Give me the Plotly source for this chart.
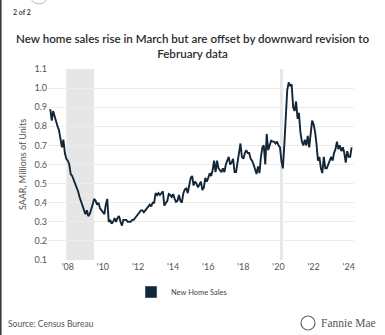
import pandas as pd
import plotly.graph_objects as go

# Monthly new home sales, SAAR, millions of units (Jan 2007 - Mar 2024)
sales_2007 = [0.89, 0.83, 0.88, 0.85, 0.82, 0.80, 0.78, 0.72, 0.69, 0.73, 0.66, 0.63]
sales_2008 = [0.62, 0.60, 0.55, 0.54, 0.52, 0.50, 0.49, 0.46, 0.43, 0.41, 0.39, 0.37]
sales_2009 = [0.34, 0.36, 0.33, 0.34, 0.36, 0.39, 0.42, 0.41, 0.39, 0.40, 0.37, 0.36]
sales_2010 = [0.35, 0.34, 0.39, 0.42, 0.30, 0.31, 0.29, 0.30, 0.32, 0.30, 0.32, 0.33]
sales_2011 = [0.30, 0.28, 0.31, 0.31, 0.31, 0.30, 0.30, 0.30, 0.31, 0.31, 0.32, 0.33]
sales_2012 = [0.34, 0.35, 0.36, 0.36, 0.35, 0.36, 0.37, 0.38, 0.39, 0.38, 0.40, 0.40]
sales_2013 = [0.45, 0.44, 0.45, 0.44, 0.45, 0.46, 0.385, 0.40, 0.41, 0.445, 0.44, 0.43]
sales_2014 = [0.445, 0.42, 0.405, 0.41, 0.44, 0.41, 0.40, 0.45, 0.47, 0.475, 0.45, 0.49]
sales_2015 = [0.53, 0.54, 0.49, 0.51, 0.50, 0.48, 0.50, 0.51, 0.466, 0.48, 0.53, 0.51]
sales_2016 = [0.53, 0.554, 0.54, 0.57, 0.62, 0.56, 0.62, 0.58, 0.57, 0.56, 0.58, 0.56]
sales_2017 = [0.60, 0.62, 0.64, 0.60, 0.61, 0.63, 0.56, 0.56, 0.61, 0.67, 0.71, 0.64]
sales_2018 = [0.63, 0.66, 0.675, 0.66, 0.66, 0.63, 0.62, 0.60, 0.57, 0.55, 0.59, 0.555]
sales_2019 = [0.64, 0.69, 0.70, 0.60, 0.76, 0.675, 0.70, 0.725, 0.72, 0.72, 0.71, 0.72]
sales_2020 = [0.70, 0.69, 0.62, 0.58, 0.70, 0.84, 0.99, 1.03, 1.01, 1.02, 0.90, 0.88]
sales_2021 = [0.93, 0.84, 0.87, 0.77, 0.72, 0.70, 0.73, 0.70, 0.75, 0.69, 0.76, 0.83]
sales_2022 = [0.81, 0.77, 0.71, 0.62, 0.64, 0.58, 0.555, 0.64, 0.58, 0.58, 0.60, 0.62]
sales_2023 = [0.64, 0.62, 0.66, 0.68, 0.72, 0.68, 0.70, 0.67, 0.69, 0.66, 0.61, 0.67]
sales_2024 = [0.64, 0.64, 0.69]

new_home_sales = (sales_2007 + sales_2008 + sales_2009 + sales_2010 + sales_2011 +
                  sales_2012 + sales_2013 + sales_2014 + sales_2015 + sales_2016 +
                  sales_2017 + sales_2018 + sales_2019 + sales_2020 + sales_2021 +
                  sales_2022 + sales_2023 + sales_2024)
months = pd.date_range("2007-01-01", periods=len(new_home_sales), freq="MS")

# Recession periods (shaded)
recession_starts = ["2007-12-01", "2020-02-01"]
recession_ends = ["2009-06-30", "2020-04-01"]

tick_dates = ["2008-01-01", "2010-01-01", "2012-01-01", "2014-01-01", "2016-01-01",
              "2018-01-01", "2020-01-01", "2022-01-01", "2024-01-01"]
tick_labels = ["'08", "'10", "'12", "'14", "'16", "'18", "'20", "'22", "'24"]
y_ticks = [0.1, 0.2, 0.3, 0.4, 0.5, 0.6, 0.7, 0.8, 0.9, 1.0, 1.1]

NAVY = "#132638"
GREY_TXT = "#555555"

fig = go.Figure()
fig.add_trace(go.Scatter(x=months, y=new_home_sales, mode="lines",
                         line=dict(color=NAVY, width=1.9), showlegend=False,
                         name="New Home Sales"))
fig.add_trace(go.Bar(x=[None], y=[None], name="New Home Sales",
                     marker=dict(color=NAVY), showlegend=True))

for s, e in zip(recession_starts, recession_ends):
    fig.add_shape(type="rect", xref="x", yref="paper", x0=s, x1=e, y0=0, y1=1,
                  fillcolor="#e6e6e6", line=dict(width=0), layer="below")

W, H = 385, 335
L, R, T, B = 48, 31, 69, 75
pw = W - L - R
ph = H - T - B

def px(xp):
    return (xp - L) / pw

def py(yp):
    return (H - B - yp) / ph

# left frame edge
fig.add_shape(type="line", xref="paper", yref="paper", x0=px(0.8), x1=px(0.8),
              y0=py(335), y1=py(0), line=dict(color="#333333", width=1.5))
# partial badge circle at top
fig.add_shape(type="circle", xref="paper", yref="paper", x0=px(30), x1=px(48),
              y0=py(4), y1=py(-14), line=dict(color="#bbbbbb", width=1))
# Fannie Mae logo circle
fig.add_shape(type="circle", xref="paper", yref="paper", x0=px(301), x1=px(315),
              y0=py(330), y1=py(316), line=dict(color="#666666", width=1.2))

fig.add_annotation(text="<b>2 of 2</b>", xref="paper", yref="paper", x=px(11), y=py(12),
                   xanchor="left", yanchor="middle", showarrow=False,
                   font=dict(size=7, color="#444444", family="Lato"))
fig.add_annotation(text="Source: Census Bureau", xref="paper", yref="paper", x=px(6), y=py(324),
                   xanchor="left", yanchor="middle", showarrow=False,
                   font=dict(size=8.5, color=GREY_TXT, family="Lato"))
fig.add_annotation(text="Fannie Mae", xref="paper", yref="paper", x=px(319), y=py(323),
                   xanchor="left", yanchor="middle", showarrow=False,
                   font=dict(size=11.5, color="#555555", family="Liberation Serif"))

fig.update_layout(
    width=W, height=H,
    margin=dict(l=L, r=R, t=T, b=B),
    paper_bgcolor="white", plot_bgcolor="white",
    title=dict(text="New home sales rise in March but are offset by downward revision to<br>February data",
               x=px(192.5), xref="paper", xanchor="center", y=1 - 43 / H, yanchor="middle",
               font=dict(size=11.6, color="#2b2b2b", family="Lato", weight=600)),
    font=dict(family="Lato", color=GREY_TXT),
    legend=dict(orientation="h", x=px(131), xanchor="left", y=py(292), yanchor="middle",
                font=dict(size=7.5, color="#444444"), itemwidth=30),
    showlegend=True,
    xaxis=dict(range=["2006-11-15", "2024-04-20"], tickvals=tick_dates, ticktext=tick_labels,
               showgrid=False, zeroline=False, showline=False, ticks="",
               tickfont=dict(size=9, color=GREY_TXT)),
    yaxis=dict(range=[0.1, 1.1], tickvals=y_ticks, tickformat=".1f",
               showgrid=True, gridcolor="#ececec", gridwidth=1, zeroline=False,
               showline=False, ticks="", tickfont=dict(size=9, color=GREY_TXT),
               title=dict(text="SAAR, Millions of Units", font=dict(size=9, color=GREY_TXT), standoff=6)),
)

fig.write_html("out.html")
